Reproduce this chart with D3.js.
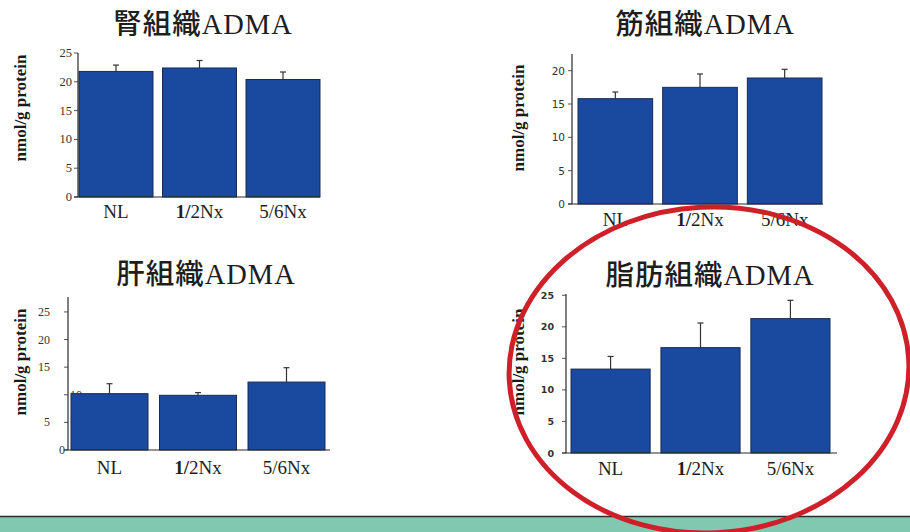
<!DOCTYPE html>
<html>
<head>
<meta charset="utf-8">
<script src="https://cdn.jsdelivr.net/npm/d3@7/dist/d3.min.js"></script>
<style>
  html, body { margin: 0; padding: 0; background: #ffffff; }
  svg { display: block; }
</style>
</head>
<body>
<svg id="chart" width="910" height="532"></svg>
<script>
// Tissue ADMA levels (nmol/g protein), mean and upper SD per group
const groups = ["NL", "1/2Nx", "5/6Nx"];

const kidneyTitle = "腎組織";
const kidneyMean = [21.8, 22.4, 20.4];
const kidneyErr = [1.1, 1.3, 1.3];
const kidneyTicks = [0, 5, 10, 15, 20, 25];

const muscleTitle = "筋組織";
const muscleMean = [15.8, 17.5, 18.9];
const muscleErr = [1.0, 2.0, 1.3];
const muscleTicks = [0, 5, 10, 15, 20];

const liverTitle = "肝組織";
const liverMean = [10.2, 9.9, 12.3];
const liverErr = [1.8, 0.5, 2.6];
const liverTicks = [0, 5, 10, 15, 20, 25];

const fatTitle = "脂肪組織";
const fatMean = [13.3, 16.7, 21.3];
const fatErr = [2.0, 3.9, 2.9];
const fatTicks = [0, 5, 10, 15, 20, 25];

const yLabel = "nmol/g protein";
const titleSuffix = "ADMA";

const svg = d3.select("#chart");
const BAR = "#1a4aa0";
const INK = "#2a2a2a";
const SERIF = "'Liberation Serif', 'Times New Roman', serif";
const CJK = "'Noto Sans CJK JP', 'Noto Sans CJK SC', sans-serif";

// Panel frames: plot box, axis top value, and label placement
const panels = [
  { title: kidneyTitle, mean: kidneyMean, err: kidneyErr, ticks: kidneyTicks,
    left: 78, right: 320, bottom: 197, top: 53, max: 25,
    barL: 79, barR: 320, pad: 0.114, titleX: 203, titleY: 34,
    labX: 20, labY: 108, xLabDy: 21, tickGap: 6, tickFont: SERIF, tickSize: 12.5 },
  { title: muscleTitle, mean: muscleMean, err: muscleErr, ticks: muscleTicks,
    left: 572, right: 823, bottom: 204, top: 54, max: 22.5,
    barL: 578, barR: 822, pad: 0.118, titleX: 705, titleY: 34,
    labX: 518, labY: 118, xLabDy: 22, tickGap: 7, tickFont: "'DejaVu Sans', sans-serif", tickSize: 10.5 },
  { title: liverTitle, mean: liverMean, err: liverErr, ticks: liverTicks,
    left: 68, right: 330, bottom: 450, top: 297, max: 27.7,
    barL: 71, barR: 325, pad: 0.13, titleX: 206, titleY: 284,
    labX: 20, labY: 362, xLabDy: 24, tickGap: 18, tickFont: SERIF, tickSize: 12, liver: true },
  { title: fatTitle, mean: fatMean, err: fatErr, ticks: fatTicks,
    left: 566, right: 837, bottom: 453, top: 294, max: 25.2,
    barL: 571, barR: 830, pad: 0.12, titleX: 710, titleY: 285,
    labX: 518, labY: 362, xLabDy: 22, tickGap: 12, tickFont: "'DejaVu Sans', sans-serif", tickSize: 9.5, bold: true }
];

panels.forEach(p => {
  const g = svg.append("g");
  const y = d3.scaleLinear().domain([0, p.max]).range([p.bottom, p.top]);
  const x = d3.scaleBand().domain(groups).range([p.barL, p.barR])
    .paddingInner(p.pad).paddingOuter(0);

  // Title: kanji in gothic, "ADMA" in serif
  const t = g.append("text")
    .attr("x", p.titleX).attr("y", p.titleY)
    .attr("text-anchor", "middle")
    .attr("font-size", 28.5).attr("letter-spacing", 1).attr("fill", "#1e1e1e");
  t.append("tspan").attr("font-family", CJK).attr("font-weight", 500).text(p.title);
  t.append("tspan").attr("font-family", SERIF).text(titleSuffix);

  // Y axis title
  g.append("text")
    .attr("transform", `translate(${p.labX},${p.labY}) rotate(-90)`)
    .attr("text-anchor", "middle").attr("dominant-baseline", "central")
    .attr("font-family", SERIF).attr("font-weight", 700).attr("font-size", 17)
    .attr("fill", "#1a1a1a").text(yLabel);

  // Y tick labels (drawn beneath the bars)
  p.ticks.forEach(v => {
    let tx = p.left - p.tickGap;
    let anchor = "end";
    if (p.liver && v === 10) { tx = p.left + 2; anchor = "start"; }
    if (p.liver && v === 0) { tx = p.left - 3; }
    g.append("text")
      .attr("x", tx).attr("y", y(v))
      .attr("text-anchor", anchor).attr("dominant-baseline", "central")
      .attr("font-family", p.tickFont).attr("font-size", p.tickSize)
      .attr("font-weight", p.bold ? 700 : 400)
      .attr("fill", "#333").text(v);
    g.append("line")
      .attr("x1", p.left - 4).attr("x2", p.left)
      .attr("y1", y(v)).attr("y2", y(v))
      .attr("stroke", "#555").attr("stroke-width", 1);
  });

  // Error bars (upper only)
  groups.forEach((k, i) => {
    const cx = x(k) + x.bandwidth() / 2;
    g.append("line")
      .attr("x1", cx).attr("x2", cx)
      .attr("y1", y(p.mean[i])).attr("y2", y(p.mean[i] + p.err[i]))
      .attr("stroke", "#333").attr("stroke-width", 1.2);
    g.append("line")
      .attr("x1", cx - 3).attr("x2", cx + 3)
      .attr("y1", y(p.mean[i] + p.err[i])).attr("y2", y(p.mean[i] + p.err[i]))
      .attr("stroke", "#333").attr("stroke-width", 1.2);
  });

  // Bars
  g.selectAll("rect.bar").data(groups).enter().append("rect")
    .attr("class", "bar")
    .attr("x", d => x(d))
    .attr("width", x.bandwidth())
    .attr("y", (d, i) => y(p.mean[i]))
    .attr("height", (d, i) => y(0) - y(p.mean[i]))
    .attr("fill", BAR).attr("stroke", "#1c2a55").attr("stroke-width", 1);

  // Axes lines
  g.append("line")
    .attr("x1", p.left).attr("x2", p.left)
    .attr("y1", p.top).attr("y2", p.bottom)
    .attr("stroke", INK).attr("stroke-width", 1.2);
  g.append("line")
    .attr("x1", p.left - 4).attr("x2", p.right)
    .attr("y1", p.bottom).attr("y2", p.bottom)
    .attr("stroke", INK).attr("stroke-width", 1.2);

  // Group labels
  groups.forEach(k => {
    const lab = g.append("text")
      .attr("x", x(k) + x.bandwidth() / 2).attr("y", p.bottom + p.xLabDy)
      .attr("text-anchor", "middle")
      .attr("font-family", SERIF).attr("font-size", 19).attr("fill", "#1e1e1e");
    if (k.startsWith("1/")) {
      lab.append("tspan").attr("font-weight", 700).text("1/");
      lab.append("tspan").text(k.slice(2));
    } else {
      lab.text(k);
    }
  });
});

// Green footer band
svg.append("rect").attr("x", 0).attr("y", 516).attr("width", 910).attr("height", 16)
  .attr("fill", "#80c8af");
svg.append("line").attr("x1", 0).attr("x2", 910).attr("y1", 516.5).attr("y2", 516.5)
  .attr("stroke", "#2b2b2b").attr("stroke-width", 1.5);

// Red highlight ring around the adipose panel
svg.append("ellipse")
  .attr("cx", 709).attr("cy", 370).attr("rx", 200).attr("ry", 163)
  .attr("transform", "rotate(-3 709 370)")
  .attr("fill", "none").attr("stroke", "#cf1f29").attr("stroke-width", 5);
</script>
</body>
</html>
